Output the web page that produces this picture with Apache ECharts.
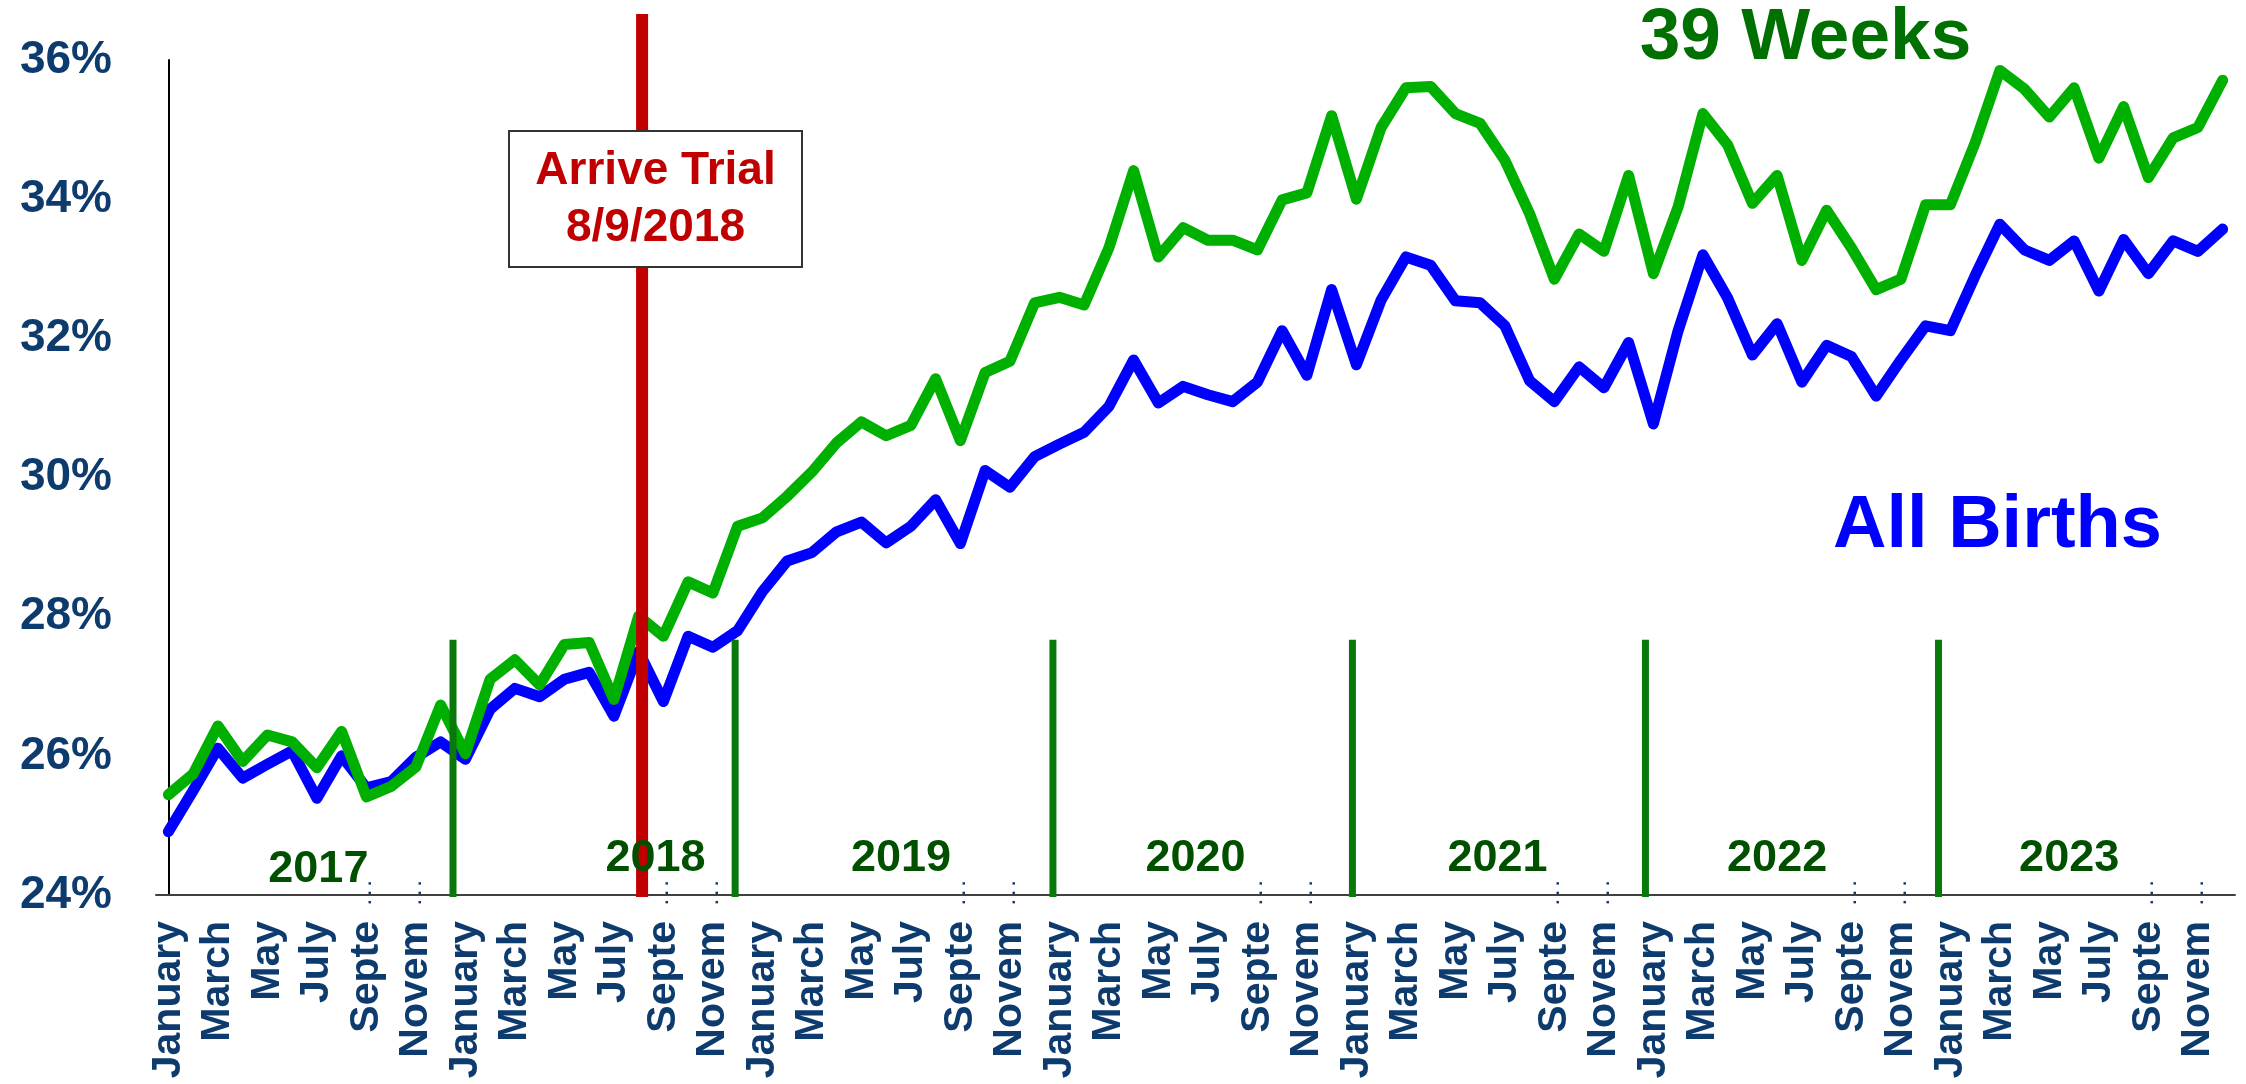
<!DOCTYPE html>
<html>
<head>
    <meta charset="utf-8">
    <title>39 Weeks vs All Births</title>
    <style>
        html, body { margin: 0; padding: 0; background: #fff; }
        #main { width: 2246px; height: 1084px; }
    </style>
</head>
<body>
    <div id="main"></div>
    <script src="https://cdn.jsdelivr.net/npm/echarts@6/dist/echarts.min.js"></script>
    <script>
    // data, Jan 2017 .. Dec 2023
    var years = ['2017', '2018', '2019', '2020', '2021', '2022', '2023'];
    var monthNames = ['January', 'February', 'March', 'April', 'May', 'June', 'July',
        'August', 'September', 'October', 'November', 'December'];

    var weeks39 = [
        25.44, 25.74, 26.43, 25.92, 26.30, 26.20, 25.83, 26.35, 25.41, 25.56, 25.84, 26.73,
        26.03, 27.10, 27.38, 27.02, 27.60, 27.63, 26.81, 28.01, 27.72, 28.50, 28.34, 29.30,
        29.42, 29.73, 30.08, 30.50, 30.80, 30.60, 30.75, 31.42, 30.53, 31.51, 31.67, 32.51,
        32.59, 32.48, 33.30, 34.41, 33.17, 33.59, 33.41, 33.41, 33.27, 33.99, 34.09, 35.20,
        34.00, 35.03, 35.60, 35.62, 35.23, 35.09, 34.56, 33.79, 32.85, 33.50, 33.25, 34.34,
        32.93, 33.89, 35.23, 34.78, 33.94, 34.34, 33.12, 33.84, 33.30, 32.70, 32.85, 33.92,
        33.92, 34.81, 35.85, 35.58, 35.18, 35.60, 34.59, 35.33, 34.31, 34.88, 35.03, 35.71
    ];
    var allBirths = [
        24.91, 25.50, 26.11, 25.68, 25.88, 26.07, 25.39, 26.00, 25.54, 25.63, 25.98, 26.20,
        25.95, 26.67, 26.97, 26.85, 27.10, 27.20, 26.57, 27.50, 26.78, 27.72, 27.56, 27.80,
        28.36, 28.80, 28.92, 29.22, 29.36, 29.06, 29.30, 29.68, 29.05, 30.10, 29.86, 30.30,
        30.48, 30.65, 31.02, 31.69, 31.07, 31.31, 31.19, 31.09, 31.37, 32.11, 31.47, 32.70,
        31.62, 32.55, 33.17, 33.05, 32.54, 32.51, 32.18, 31.39, 31.09, 31.59, 31.29, 31.94,
        30.77, 32.11, 33.20, 32.58, 31.76, 32.21, 31.37, 31.90, 31.74, 31.17, 31.69, 32.18,
        32.11, 32.90, 33.64, 33.27, 33.12, 33.40, 32.68, 33.42, 32.93, 33.40, 33.25, 33.57
    ];

    // year separators [month index, top %] and year label spots [month index, %]
    var yearLines = [[11.5, 27.67], [22.9, 27.67], [35.74, 27.67], [47.84, 27.67], [59.68, 27.67], [71.52, 27.67]];
    var yearLabelPos = [[6.06, 24.37], [19.68, 24.52], [29.6, 24.52], [41.5, 24.52], [53.7, 24.52], [65.0, 24.52], [76.8, 24.52]];
    var trialLine = [[19.14, 36.66]];

    var months = [];
    years.forEach(function (y) {
        monthNames.forEach(function (m) { months.push(m); });
    });

    var navy = '#0E3B6E';
    var font = "'Liberation Sans', Arial, sans-serif";

    function shortMonth(v) {
        return v.length > 7 ? v.slice(0, 5) : v;
    }

    function vline(width) {
        return function (params, api) {
            var p0 = api.coord([api.value(0), 23.97]);
            var p1 = api.coord([api.value(0), api.value(1)]);
            return {
                type: 'line',
                shape: { x1: p0[0], y1: p0[1], x2: p1[0], y2: p1[1] },
                style: { stroke: api.visual('color'), lineWidth: width }
            };
        };
    }

    var chart = echarts.init(document.getElementById('main'));

    var option = {
        animation: false,
        backgroundColor: '#fff',
        grid: { left: 156, right: 11, top: 60, bottom: 189 },
        xAxis: [{
            type: 'category',
            position: 'bottom',
            data: months,
            boundaryGap: true,
            axisLine: { lineStyle: { color: '#404040', width: 2 } },
            axisTick: { show: false },
            splitLine: { show: false },
            axisLabel: {
                interval: 1,
                rotate: 90,
                margin: 26,
                fontSize: 41,
                fontWeight: 'bold',
                fontFamily: font,
                color: navy,
                formatter: shortMonth
            }
        }, {
            type: 'category',
            position: 'bottom',
            data: months,
            axisLine: { show: false },
            axisTick: { show: false },
            axisLabel: {
                interval: 1,
                rotate: 90,
                margin: -14,
                fontSize: 17,
                fontWeight: 'bold',
                fontFamily: font,
                color: navy,
                formatter: function (v) { return v.length > 7 ? '. . .' : ''; }
            }
        }, {
            type: 'value',
            min: -0.5,
            max: 83.5,
            show: false
        }],
        yAxis: {
            type: 'value',
            min: 24,
            max: 36,
            interval: 2,
            axisLine: { show: true, lineStyle: { color: '#000', width: 2 } },
            axisTick: { show: false },
            splitLine: { show: false },
            axisLabel: {
                margin: 44,
                fontSize: 46,
                fontWeight: 'bold',
                fontFamily: font,
                color: navy,
                formatter: '{value}%'
            }
        },
        series: [{
            name: 'All Births',
            type: 'line',
            xAxisIndex: 0,
            data: allBirths,
            showSymbol: false,
            symbol: 'none',
            lineStyle: { color: '#0000FF', width: 11, join: 'round', cap: 'round' },
            z: 2
        }, {
            name: '39 Weeks',
            type: 'line',
            xAxisIndex: 0,
            data: weeks39,
            showSymbol: false,
            symbol: 'none',
            lineStyle: { color: '#00B000', width: 11, join: 'round', cap: 'round' },
            z: 3
        }, {
            type: 'custom',
            xAxisIndex: 2,
            data: yearLines,
            itemStyle: { color: '#0B780B' },
            renderItem: vline(7),
            clip: false,
            z: 4
        }, {
            type: 'custom',
            xAxisIndex: 2,
            data: trialLine,
            itemStyle: { color: '#C00000' },
            renderItem: vline(12),
            clip: false,
            z: 5
        }, {
            type: 'scatter',
            xAxisIndex: 2,
            data: yearLabelPos,
            symbolSize: 0,
            clip: false,
            z: 6,
            itemStyle: { opacity: 1 },
            label: {
                show: true,
                position: 'inside',
                fontSize: 45,
                fontWeight: 'bold',
                fontFamily: font,
                color: '#005000',
                opacity: 1,
                formatter: function (p) { return years[p.dataIndex]; }
            }
        }],
        graphic: [{
            type: 'rect',
            z: 100,
            shape: { x: 509, y: 131, width: 293, height: 136 },
            style: { fill: '#fff', stroke: '#333', lineWidth: 2 }
        }, {
            type: 'text',
            z: 101,
            x: 655.5,
            y: 199.5,
            style: {
                text: 'Arrive Trial\n8/9/2018',
                fill: '#C00000',
                font: 'bold 46px ' + font,
                lineHeight: 57,
                align: 'center',
                verticalAlign: 'middle'
            }
        }, {
            type: 'text',
            z: 100,
            x: 1805.5,
            y: 38.5,
            style: {
                text: '39 Weeks',
                fill: '#007000',
                font: 'bold 73px ' + font,
                align: 'center',
                verticalAlign: 'middle'
            }
        }, {
            type: 'text',
            z: 100,
            x: 1997.5,
            y: 526.5,
            style: {
                text: 'All Births',
                fill: '#0000FF',
                font: 'bold 74px ' + font,
                align: 'center',
                verticalAlign: 'middle'
            }
        }]
    };

    chart.setOption(option);
    window.onresize = chart.resize;
    </script>
</body>
</html>
